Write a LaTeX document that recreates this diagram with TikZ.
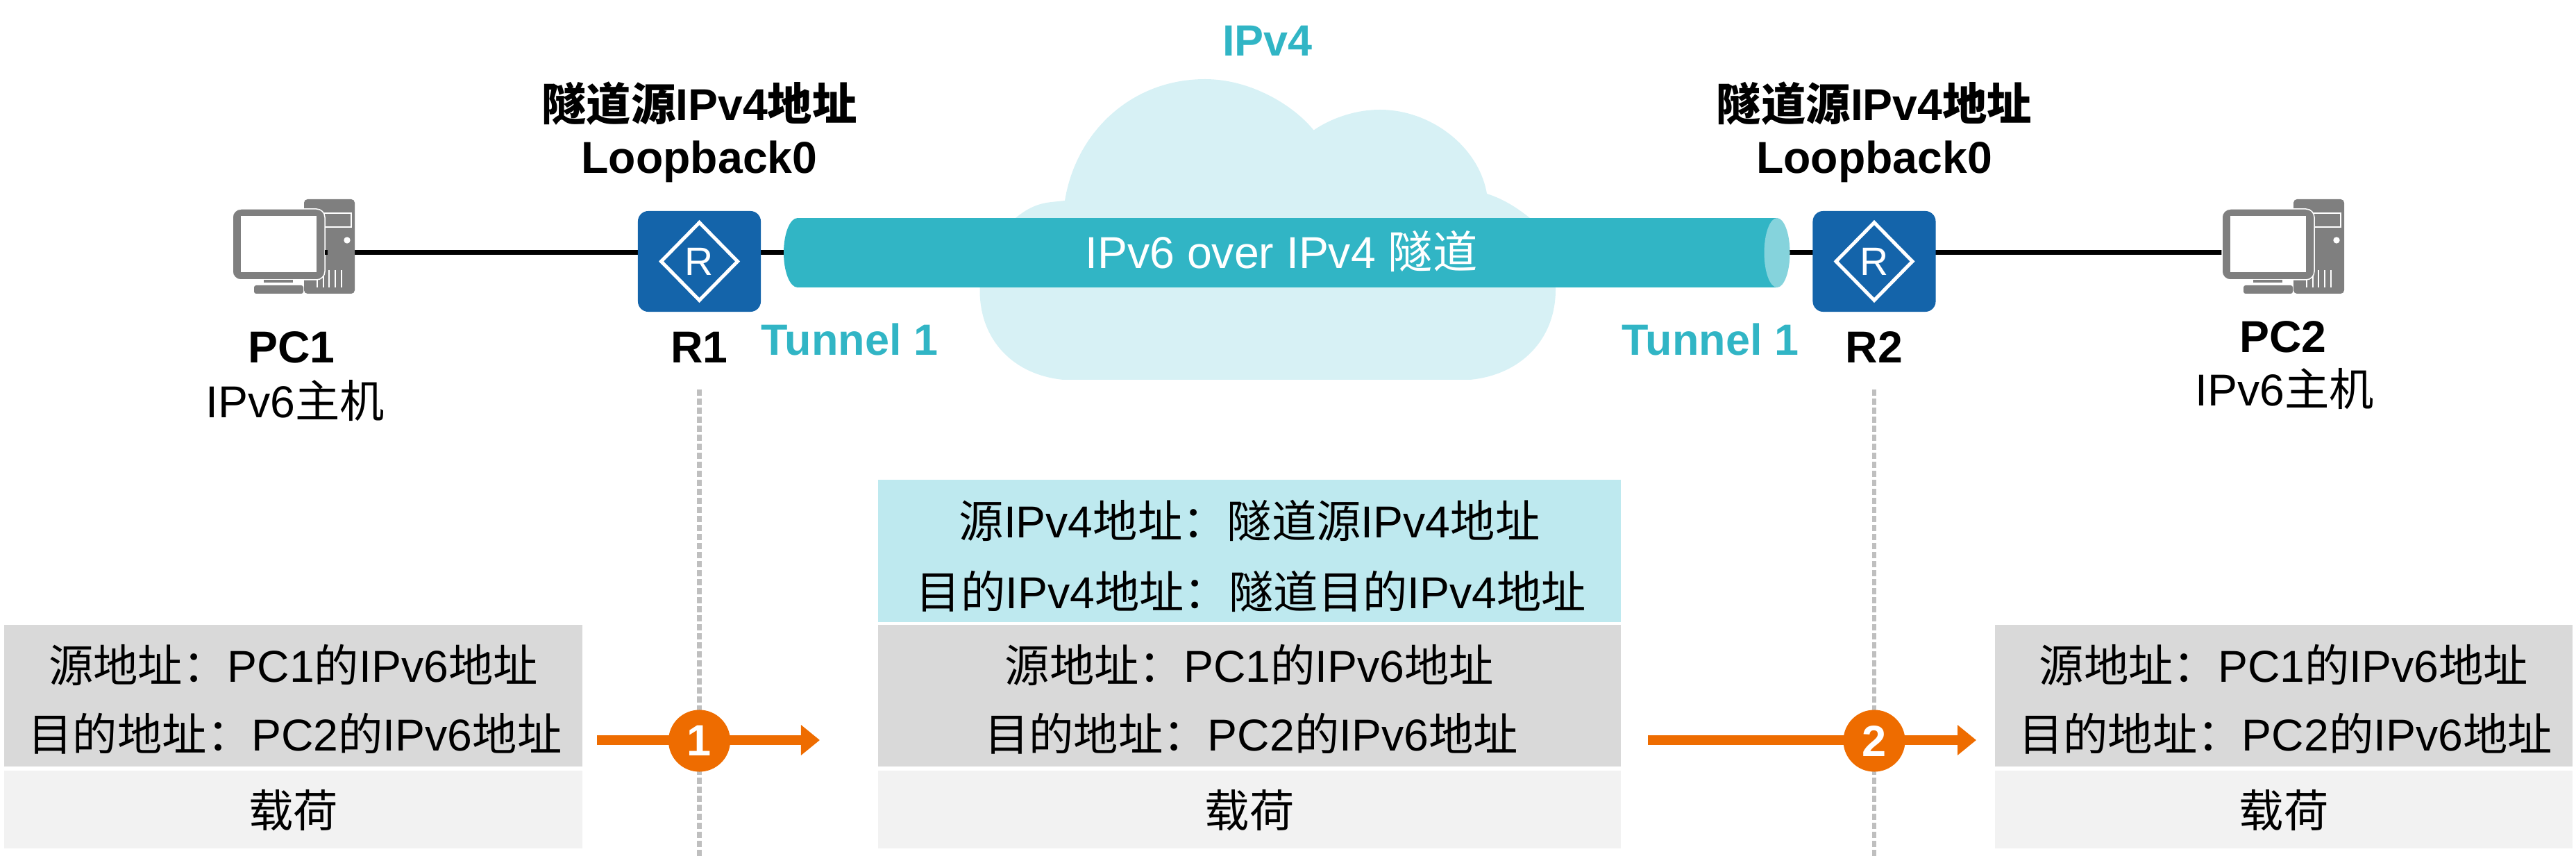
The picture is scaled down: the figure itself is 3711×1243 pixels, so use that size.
\documentclass[tikz,border=0pt]{standalone}
\usepackage{fontspec}
\setmainfont{Liberation Sans}
\newfontfamily\cjk{Noto Sans CJK SC}
\newcommand{\zh}[1]{{\cjk #1}}
\usetikzlibrary{arrows.meta,shapes.geometric}
\definecolor{tealmain}{HTML}{31B5C5}
\definecolor{tealend}{HTML}{85D3DC}
\definecolor{cloudfill}{HTML}{D7F1F5}
\definecolor{outerhdr}{HTML}{BEE9EF}
\definecolor{innerhdr}{HTML}{D9D9D9}
\definecolor{payload}{HTML}{F2F2F2}
\definecolor{routerblue}{HTML}{1464AA}
\definecolor{icongray}{HTML}{7F7F7F}
\definecolor{flow}{HTML}{EE6C00}
\definecolor{guide}{HTML}{BFBFBF}
\tikzset{
    txt/.style={font=\fontsize{18.3pt}{20pt}\selectfont, inner sep=0pt, anchor=base},
    btxt/.style={txt, font=\fontsize{18.3pt}{20pt}\selectfont\bfseries},
    tealtxt/.style={btxt, text=tealmain, font=\fontsize{17.9pt}{20pt}\selectfont\bfseries},
    linkline/.style={line width=0.07cm, black},
    guideline/.style={line width=0.065cm, guide, dash pattern=on 0.085cm off 0.045cm},
    flowarrow/.style={line width=0.137cm, flow, -{Triangle[length=0.27cm, width=0.42cm]}},
    badge/.style={circle, fill=flow, text=white, minimum size=0.89cm, inner sep=0pt,
        font=\fontsize{17.93pt}{20pt}\selectfont\bfseries},
    router/.style={fill=routerblue, rounded corners=0.15cm, minimum width=1.77cm, minimum height=1.45cm},
    routermark/.style={diamond, aspect=1, draw=white, line width=0.05cm, text=white, inner sep=0pt,
        minimum width=1.12cm, minimum height=1.14cm, font=\fontsize{16.2pt}{18pt}\selectfont},
    pcicon/.pic={
        \fill[icongray, rounded corners=0.05cm] (103,-14) rectangle (176,122);
        \draw[white, line width=0.015cm] (108,6) rectangle (171,26);
        \fill[white] (165,45) circle (4.7);
        \foreach \x in {122, 131, 139, 148, 157} {
            \draw[white, line width=0.018cm] (\x,88) -- (\x,113);
        }
        \filldraw[fill=icongray, draw=white, line width=0.015cm, rounded corners=0.12cm] (0,0) rectangle (133,102);
        \fill[white] (12,10) rectangle (121,91);
        \fill[icongray] (45,102) rectangle (87,106);
        \fill[icongray, rounded corners=0.03cm] (31,110) -- (102,110) -- (102,122) -- (31,122) -- cycle;
    }
}
\begin{document}
\begin{tikzpicture}[x=0.01cm, y=-0.01cm]
    \useasboundingbox (0,0) rectangle (3711,1243);

    % Cloud
    \fill[cloudfill] (1532,547) .. controls (1460,540) and (1411,490) .. (1411.5,417)
        .. controls (1411,375) and (1430,340) .. (1463,314)
        .. controls (1480,300) and (1495,293) .. (1515,291) -- (1534,289)
        .. controls (1550,190) and (1630,114) .. (1736,114)
        .. controls (1800,114) and (1862,150) .. (1892.5,187.5)
        .. controls (1915,172) and (1950,158) .. (1988,158)
        .. controls (2060,158) and (2130,210) .. (2142,279)
        .. controls (2170,288) and (2190,303) .. (2204,314)
        .. controls (2228,345) and (2241,380) .. (2241,417)
        .. controls (2241,490) and (2190,540) .. (2117.6,547) -- cycle;
    \node[tealtxt] (ipv4) at (1826,81) {IPv4};

    % Links
    \coordinate (pc1port) at (440,364);
    \coordinate (pc2port) at (3250,364);
    \coordinate (r1port) at (1007.5,364);
    \coordinate (r2port) at (2700,364);
    \coordinate (stub) at (468,364);
    \draw[linkline] (pc1port) -- (r1port);
    \draw[linkline] (r1port) -- (r2port);
    \draw[linkline] (r2port) -- (pc2port);

    % Tunnel
    \fill[tealmain] (1149,364) ellipse [x radius=20, y radius=50];
    \fill[tealmain] (1149,314) rectangle (2560,414);
    \fill[tealend] (2560,364) ellipse [x radius=18.5, y radius=50];
    \node[txt, text=white] (tunnel) at (1846,387) {IPv6 over IPv4 \zh{隧道}};
    \node[tealtxt] (t1) at (1224,512) {Tunnel 1};
    \node[tealtxt] (t2) at (2464,512) {Tunnel 1};

    % Hosts
    \pic at (335,301) {pcicon};
    \pic at (3201,301) {pcicon};
    \draw[linkline] (stub) -- ++(3.5,0);
    \node[btxt] (pc1) at (420,523) {PC1};
    \node[txt] (pc1role) at (425,601) {IPv6\zh{主机}};
    \node[btxt] (pc2) at (3289,508) {PC2};
    \node[txt] (pc2role) at (3291,585) {IPv6\zh{主机}};

    % Routers
    \foreach \x/\n in {1007.5/1, 2700/2} {
        \draw[guideline] (\x,561) -- (\x,1236);
        \node[router] (r\n) at (\x,376.5) {};
        \node[routermark] (rm\n) at (\x,376.5) {R};
        \node[btxt] (src\n) at (\x,174) {\zh{隧道源}IPv4\zh{地址}};
        \node[btxt] (lo\n) at (\x,250) {Loopback0};
        \node[btxt] (rname\n) at (\x,523) {R\n};
    }

    % Packets
    \node[fill=outerhdr, minimum width=10.7cm, minimum height=2.047cm, inner sep=0pt] (outer) at (1800,793.3) {};
    \node[txt] (outer1) at (1800,774) {\zh{源}IPv4\zh{地址：隧道源}IPv4\zh{地址}};
    \node[txt] (outer2) at (1802.5,876.5) {\zh{目的}IPv4\zh{地址：隧道目的}IPv4\zh{地址}};
    \foreach \x/\w/\n in {422.5/8.316cm/a, 1800/10.7cm/b, 3290/8.32cm/c} {
        \node[fill=innerhdr, minimum width=\w, minimum height=2.04cm, inner sep=0pt] (hdr\n) at (\x,1002) {};
        \node[fill=payload, minimum width=\w, minimum height=1.117cm, inner sep=0pt] (data\n) at (\x,1165.85) {};
        \node[txt] (hsrc\n) at (\x,982) {\zh{源地址：}PC1\zh{的}IPv6\zh{地址}};
        \node[txt] (hdst\n) at ({\x+2.5},1081.7) {\zh{目的地址：}PC2\zh{的}IPv6\zh{地址}};
        \node[txt] (pay\n) at (\x,1191.5) {\zh{载荷}};
    }

    % Flow arrows
    \coordinate (f1a) at (860,1066);
    \coordinate (f1b) at (1181,1066);
    \coordinate (f2a) at (2374,1066);
    \coordinate (f2b) at (2847,1066);
    \draw[flowarrow] (f1a) -- (f1b);
    \draw[flowarrow] (f2a) -- (f2b);
    \node[badge] (s1) at (1007.5,1067) {1};
    \node[badge] (s2) at (2700,1067) {2};
\end{tikzpicture}
\end{document}
